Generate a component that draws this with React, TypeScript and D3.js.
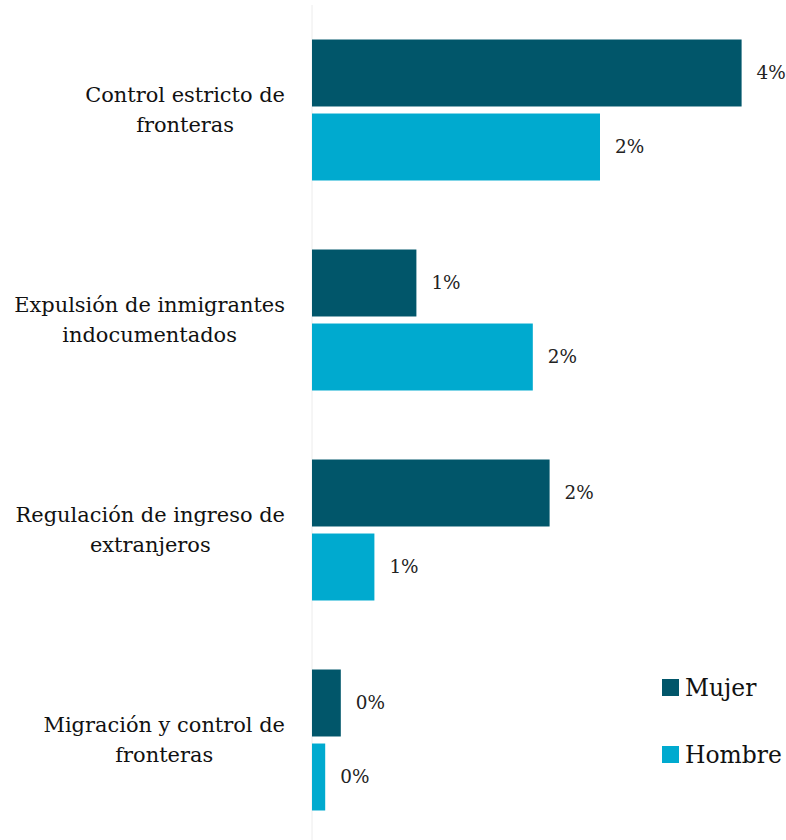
import React, { useEffect, useRef } from "react";
import * as d3 from "d3";

const categories = [
  "Control estricto de fronteras",
  "Expulsión de inmigrantes indocumentados",
  "Regulación de ingreso de extranjeros",
  "Migración y control de fronteras",
];
const seriesNames = ["Mujer", "Hombre"];
const mujerValues = [3.58, 0.87, 1.98, 0.24];
const hombreValues = [2.4, 1.84, 0.52, 0.11];
const seriesColors = ["#01566A", "#00AACF"];

const W = 786;
const H = 840;
const FONT = "'DejaVu Serif', serif";

export default function App() {
  const ref = useRef<SVGSVGElement | null>(null);

  useEffect(() => {
    const svg = d3.select(ref.current);
    svg.selectAll("*").remove();

    const x0 = 312;
    const x = d3.scaleLinear().domain([0, 4]).range([x0, x0 + 480]);
    const y = d3
      .scaleBand<string>()
      .domain(categories)
      .range([5, 845])
      .paddingInner(0.3286)
      .paddingOuter(0.1643);
    const ySub = d3
      .scaleBand<string>()
      .domain(seriesNames)
      .range([0, y.bandwidth()])
      .paddingInner(0.095);

    const series = [mujerValues, hombreValues];

    svg
      .append("line")
      .attr("x1", x0)
      .attr("x2", x0)
      .attr("y1", 5)
      .attr("y2", H)
      .attr("stroke", "#ececec")
      .attr("stroke-width", 1);

    const measure = svg
      .append("text")
      .attr("font-family", FONT)
      .attr("visibility", "hidden");
    const textW = (s: string, fs: number) => {
      measure.attr("font-size", fs).text(s);
      return (measure.node() as SVGTextElement).getComputedTextLength();
    };
    // tune category font size so the widest known line matches the reference (~271px)
    const fs = 19 * (271 / textW("Expulsión de inmigrantes", 19));
    const maxW = fs * (275 / fs) ;

    categories.forEach((cat, ci) => {
      seriesNames.forEach((s, si) => {
        const v = series[si][ci];
        const by = (y(cat) as number) + (ySub(s) as number);
        svg
          .append("rect")
          .attr("x", x(0))
          .attr("y", by)
          .attr("width", x(v) - x(0))
          .attr("height", ySub.bandwidth())
          .attr("fill", seriesColors[si]);
        svg
          .append("text")
          .attr("x", x(v) + 15)
          .attr("y", by + ySub.bandwidth() / 2)
          .attr("dy", "0.35em")
          .attr("font-family", FONT)
          .attr("font-size", fs * 0.88)
          .attr("fill", "#222")
          .text(d3.format(".0f")(v) + "%");
      });

      const words = cat.split(" ");
      const lines: string[] = [];
      let cur = "";
      words.forEach((w) => {
        const test = cur ? cur + " " + w : w;
        if (textW(test, fs) > maxW && cur) {
          lines.push(cur);
          cur = w;
        } else cur = test;
      });
      if (cur) lines.push(cur);
      const widest = d3.max(lines, (l) => textW(l, fs)) as number;
      const cx = 285 - widest / 2;
      const cy = (y(cat) as number) + y.bandwidth() / 2;
      const lh = 30;
      const t = svg
        .append("text")
        .attr("font-family", FONT)
        .attr("font-size", fs)
        .attr("fill", "#111")
        .attr("text-anchor", "middle");
      lines.forEach((l, i) => {
        t.append("tspan")
          .attr("x", cx)
          .attr("y", cy + (i - (lines.length - 1) / 2) * lh)
          .attr("dy", "0.35em")
          .text(l);
      });
    });

    seriesNames.forEach((s, i) => {
      const ly = 679 + i * 67;
      svg
        .append("rect")
        .attr("x", 662)
        .attr("y", ly)
        .attr("width", 17)
        .attr("height", 17)
        .attr("fill", seriesColors[i]);
      svg
        .append("text")
        .attr("x", 685)
        .attr("y", ly + 8.5)
        .attr("dy", "0.35em")
        .attr("font-family", FONT)
        .attr("font-size", fs * 1.12)
        .attr("fill", "#111")
        .text(s);
    });
    measure.remove();
  }, []);

  return (
    <svg
      ref={ref}
      width={W}
      height={H}
      style={{ position: "absolute", left: 0, top: 0, background: "#fff" }}
    />
  );
}
